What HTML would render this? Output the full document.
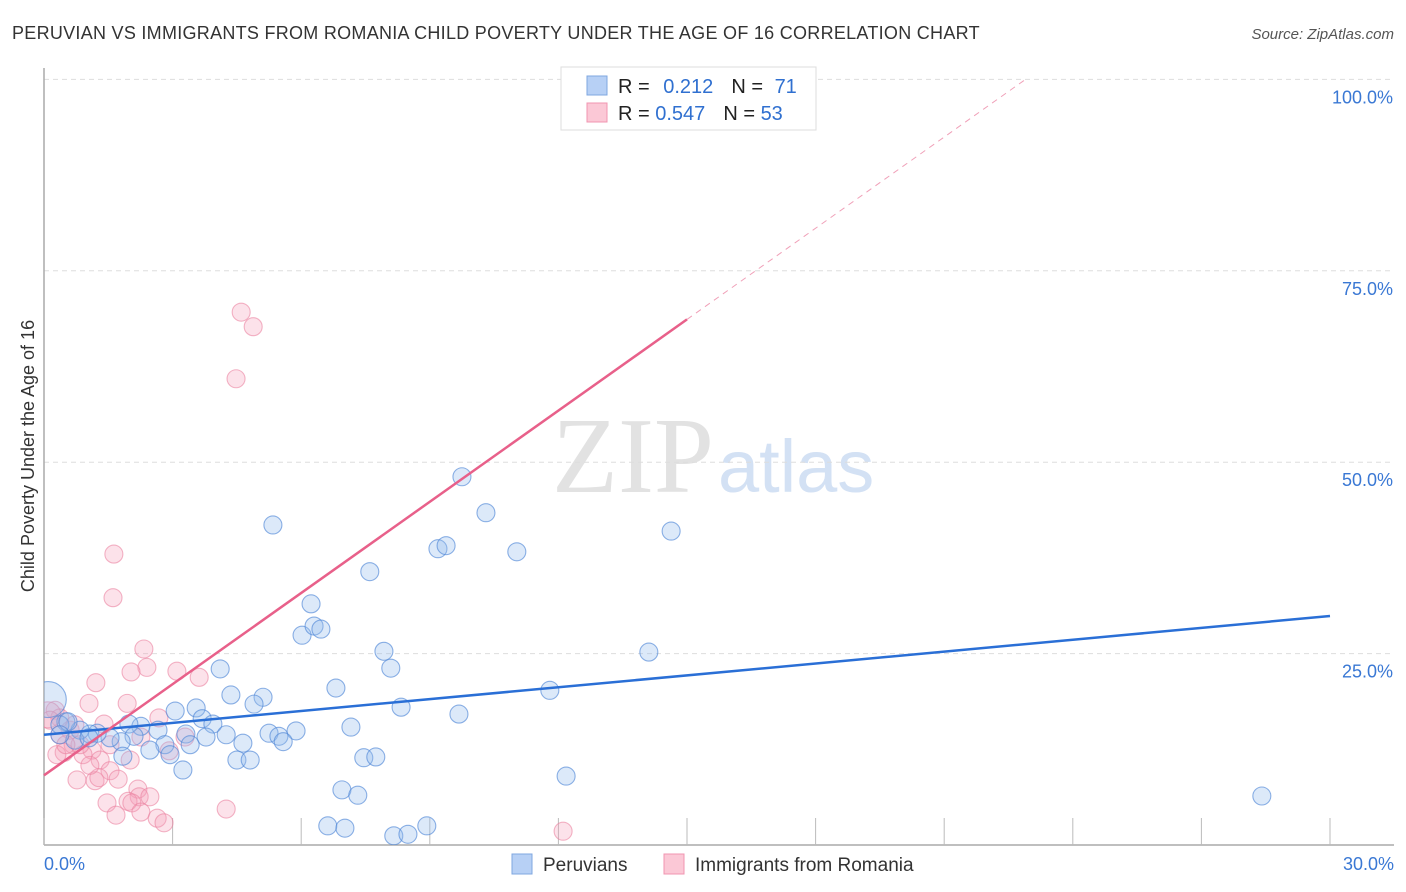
<!DOCTYPE html>
<html><head><meta charset="utf-8"><style>
body{margin:0;background:#fff;font-family:"Liberation Sans",sans-serif}
svg{display:block}
</style></head><body>
<svg id="c" width="1406" height="892">
<defs><clipPath id="plot"><rect x="44" y="60" width="1360" height="785"/></clipPath></defs>
<text x="12" y="39" font-size="18" fill="#333" letter-spacing="0.28">PERUVIAN VS IMMIGRANTS FROM ROMANIA CHILD POVERTY UNDER THE AGE OF 16 CORRELATION CHART</text>
<text x="1394" y="39" font-size="15" fill="#555" font-style="italic" text-anchor="end">Source: ZipAtlas.com</text>
<text x="34" y="456" font-size="18" fill="#333" text-anchor="middle" transform="rotate(-90 34 456)">Child Poverty Under the Age of 16</text>
<text x="552" y="492" font-size="108" fill="#e2e2e2" font-family="Liberation Serif,serif">ZIP</text>
<text x="718" y="492" font-size="74" fill="#d3e1f4">atlas</text>
<g id="grid"></g><g id="pts" clip-path="url(#plot)"></g><g id="lines"></g>
<g>
<rect x="561" y="67" width="255" height="63" fill="#fff" stroke="#ddd"/>
<rect x="587" y="76" width="20" height="19" fill="#b7d0f5" stroke="#7fa7e0"/>
<rect x="587" y="103" width="20" height="19" fill="#fbc8d6" stroke="#f095b0"/>
<text x="618" y="93" font-size="20" fill="#222">R = <tspan fill="#3070d0" dx="8">0.212</tspan><tspan fill="#222" dx="18">N = </tspan><tspan fill="#3070d0" dx="6">71</tspan></text>
<text x="618" y="120" font-size="20" fill="#222">R = <tspan fill="#3070d0">0.547</tspan><tspan fill="#222" dx="18">N = </tspan><tspan fill="#3070d0">53</tspan></text>
</g>
<g>
<rect x="512" y="854" width="20" height="20" fill="#b7d0f5" stroke="#7fa7e0"/>
<text x="543" y="871" font-size="19" fill="#333">Peruvians</text>
<rect x="664" y="854" width="20" height="20" fill="#fbc8d6" stroke="#f095b0"/>
<text x="695" y="871" font-size="19" fill="#333">Immigrants from Romania</text>
</g>
</svg>
<script>
const blueX=[5.34,9.75,10.31,9.19,9.38,11.03,14.63,7.60,6.23,6.02,6.30,6.46,7.93,8.09,14.11,6.81,4.11,4.36,5.11,4.90,3.55,3.06,3.69,3.94,8.33,9.68,11.80,7.16,5.25,5.48,5.88,5.58,4.64,4.25,3.78,3.31,2.66,2.26,1.98,2.82,2.47,2.10,1.80,1.84,1.54,1.24,1.07,0.84,0.51,0.10,0.37,4.50,4.81,7.46,7.74,3.24,2.94,12.18,6.95,7.32,6.62,7.02,8.16,8.49,8.93,28.41,0.56,0.72,0.37,1.05,3.41];
const blueY=[41.8,48.1,43.4,38.7,39.1,38.3,41.0,35.7,31.5,27.4,28.6,28.2,25.3,23.1,25.2,20.5,23.0,19.6,19.3,18.4,17.9,17.5,16.5,15.8,18.0,17.1,20.2,15.4,14.6,14.2,14.9,13.5,13.3,14.4,14.1,14.5,15.0,15.5,15.8,13.1,12.4,14.2,13.5,11.6,14.0,14.6,14.5,15.0,16.1,19.0,15.7,11.1,11.1,11.4,11.5,9.8,11.8,9.0,7.2,6.5,2.5,2.2,1.2,1.4,2.5,6.4,16.1,13.7,14.4,14.0,13.1];
const pinkX=[4.60,4.88,4.48,1.63,1.61,2.33,2.40,2.03,3.10,3.62,1.21,1.05,1.94,2.68,1.40,3.29,2.92,2.26,0.26,0.37,0.09,0.61,0.68,0.47,1.12,0.91,1.31,0.30,1.54,1.73,0.77,1.19,1.28,2.19,2.22,1.47,1.96,2.47,1.68,2.05,2.26,2.64,2.80,4.25,12.11,0.37,0.14,0.84,0.51,2.01,0.72,1.07,1.54];
const pinkY=[69.6,67.7,60.9,38.0,32.3,25.6,23.2,22.6,22.7,21.9,21.2,18.5,18.5,16.6,15.8,14.1,12.3,14.1,17.6,16.6,17.0,15.0,13.1,12.1,12.4,11.8,11.1,11.8,9.7,8.6,8.5,8.4,8.8,7.3,6.3,5.5,5.7,6.3,3.9,5.5,4.3,3.5,2.9,4.7,1.8,14.4,16.3,13.1,13.1,11.1,15.7,10.4,13.1];
const yTicks=[25,50,75,100];
const xTickLabels=["0.0%","30.0%"];
const blueFit=[14.4,0.517];
const pinkFit=[9.1,3.97];
const NS='http://www.w3.org/2000/svg';
const X=v=>44+v/30*1286, Y=v=>845-v/100*765.6;
function mk(t,a,p){const e=document.createElementNS(NS,t);for(const k in a)e.setAttribute(k,a[k]);p.appendChild(e);return e;}
const g=document.getElementById('grid');
yTicks.forEach(t=>{
 const l=mk('line',{x1:44,x2:1394,y1:Y(t),y2:Y(t),stroke:'#ddd','stroke-dasharray':'5,4'},g);
 
 
 const tx=mk('text',{x:1393,y:Y(t)+24,'font-size':18,fill:'#3a78d4','text-anchor':'end'},g);
 tx.textContent=t.toFixed(1)+'%';
 
 
});
mk('line',{x1:44,x2:44,y1:68,y2:845,stroke:'#aaa','stroke-width':1.5},g);
mk('line',{x1:44,x2:1394,y1:845,y2:845,stroke:'#aaa','stroke-width':1.5},g);
for(let i=0;i<=10;i++){const t=mk('line',{x1:X(i*3),x2:X(i*3),y1:818,y2:845,stroke:'#bbb'},g);
 
 }
const xl=mk('text',{x:44,y:870,'font-size':18,fill:'#3a78d4'},g);xl.textContent=xTickLabels[0];


const xr=mk('text',{x:1394,y:870,'font-size':18,fill:'#3a78d4','text-anchor':'end'},g);xr.textContent=xTickLabels[1];


const P=document.getElementById('pts');
pinkX.forEach((x,i)=>{const c=mk('circle',{cx:X(x),cy:Y(pinkY[i]),r:i==20?13:9,fill:'rgba(245,160,185,0.3)',stroke:'rgba(235,130,160,0.6)','stroke-width':1.1},P);
 
 });
blueX.forEach((x,i)=>{const c=mk('circle',{cx:X(x),cy:Y(blueY[i]),r:i==49?18:9,fill:'rgba(150,188,238,0.33)',stroke:'rgba(80,135,215,0.65)','stroke-width':1.1},P);
 
 });
const L=document.getElementById('lines');
const bl=mk('line',{x1:X(0),y1:Y(blueFit[0]),x2:X(30),y2:Y(blueFit[0]+blueFit[1]*30),stroke:'#2a6fd6','stroke-width':2.5},L);


const pl=mk('line',{x1:X(0),y1:Y(pinkFit[0]),x2:X(15),y2:Y(pinkFit[0]+pinkFit[1]*15),stroke:'#e8608a','stroke-width':2.5},L);


const xe=(100-pinkFit[0])/pinkFit[1];
const pd=mk('line',{x1:X(15),y1:Y(pinkFit[0]+pinkFit[1]*15),x2:X(xe),y2:Y(100),stroke:'#f0a0b8','stroke-width':1,'stroke-dasharray':'6,5'},L);


</script>
</body></html>
